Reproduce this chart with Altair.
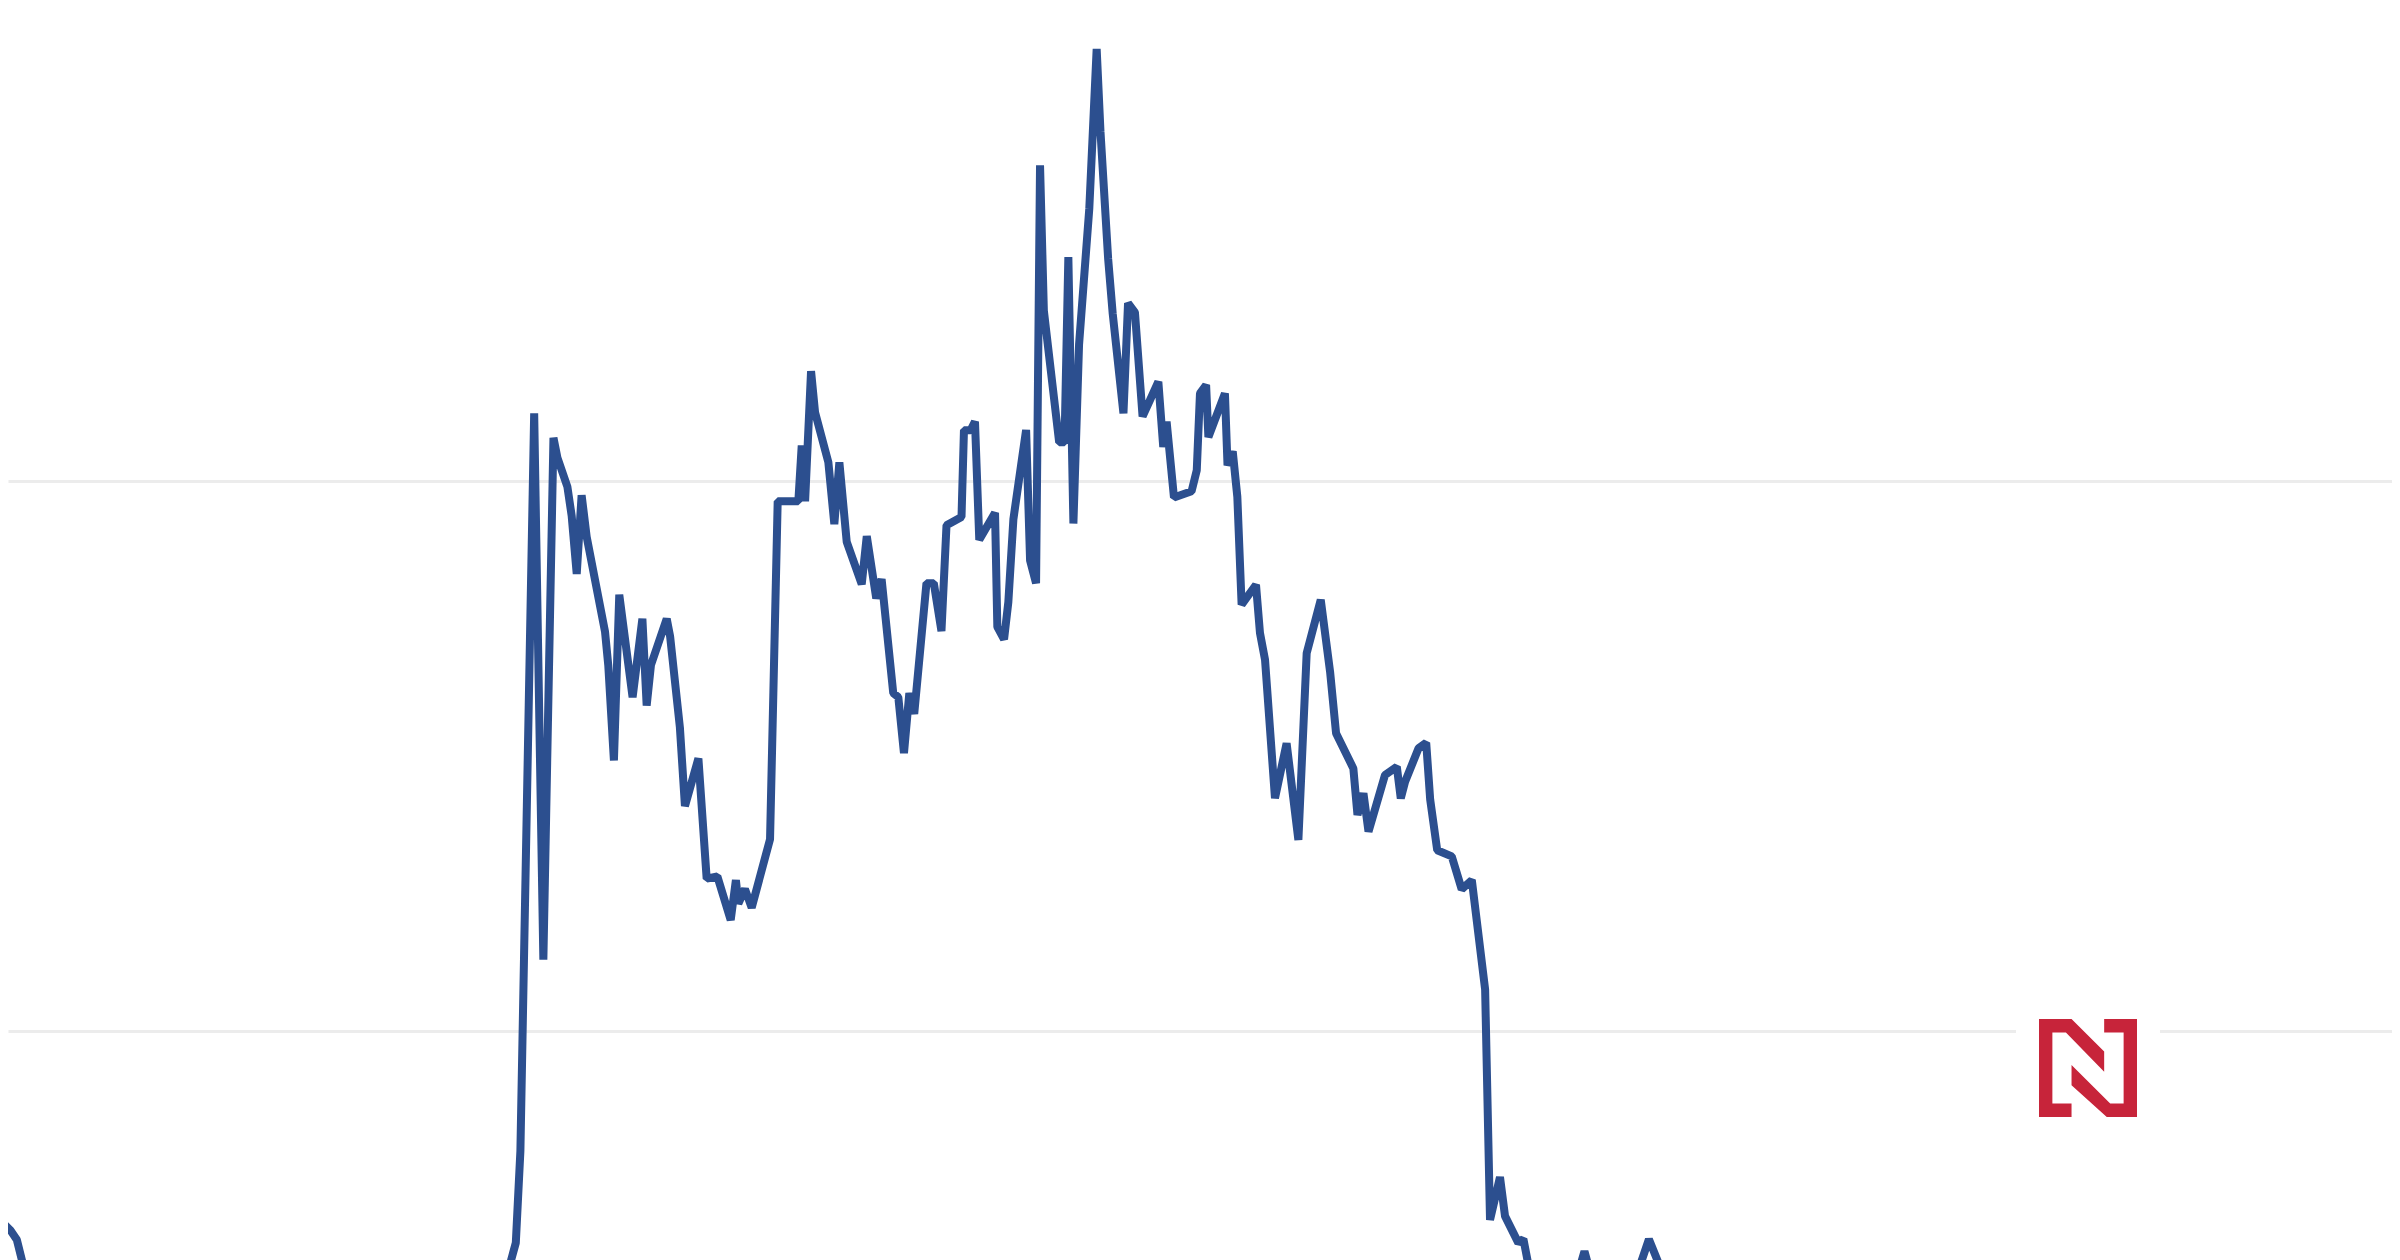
import altair as alt
import pandas as pd

# time index (days) and series values
day = [0, 7, 11, 15, 20, 330, 334, 337, 340, 349, 355, 361.6, 364.2, 370.7, 373.5, 376.8, 380, 383.3,
       395.3, 397.4, 401.1, 404.6, 413.3, 419.7, 422.5, 425.3, 435.6, 437.8, 444.2, 447.5, 456.3, 461.7,
       468.7, 477.4, 480.8, 482.4, 486.7, 491.1, 503.1, 508.1, 521.6, 523.8, 526, 529.9, 532.5, 541.2,
       545.1, 548.4, 553.2, 563, 566.3, 572.5, 576, 583.6, 586.9, 590.6, 594.1, 597.3, 605.3, 610.1,
       615.1, 618.4, 628.2, 629.8, 634.2, 637, 639.8, 650.1, 651.6, 656, 658.8, 662.1, 670.4, 673,
       676.9, 679.5, 682, 692, 695.5, 698, 701.3, 705, 711.7, 716.5, 719, 724, 727, 734, 737, 741.5,
       746.5, 756.8, 760, 762.2, 767, 778.5, 781.9, 784, 788, 789.5, 800.3, 802, 805.4, 808.4, 811.2,
       820.6, 823.2, 826.5, 833, 840.6, 848.3, 853.7, 862.9, 869, 872.9, 884.2, 886.9, 890.8, 894.1,
       904.9, 912.6, 915.2, 918, 926.8, 931.8, 934.4, 939, 948.5, 955, 961.6, 970.3, 973.5, 980, 983.3,
       992, 995.3, 998.5, 1003, 1027, 1035.2, 1043, 1065, 1077.3, 1092]
value = [65.65, 63.70, 62.03, 57.58, 52, 52, 58.41, 61.47, 78.17, 212.32, 112.96, 207.87, 204.25, 198.96,
         193.68, 183.10, 197.43, 189.89, 172.58, 166.54, 149.20, 179.34, 160.67, 174.97, 159.16, 166.54,
         174.97, 171.80, 155.21, 140.90, 149.56, 127.71, 128.10, 120.17, 127.44, 123.18, 125.82, 122.43,
         134.86, 196.32, 196.32, 206.48, 196.32, 219.98, 212.52, 203.42, 192.17, 203.42, 188.94, 181.23,
         189.97, 178.65, 182.18, 161.45, 160.72, 150.54, 161.45, 157.66, 181.43, 181.43, 172.72, 191.98,
         193.48, 209.26, 209.26, 210.82, 189.33, 194.23, 173.50, 171.24, 178.01, 193.09, 209.29, 185.55,
         181.43, 257.41, 230.97, 207.04, 207.04, 240.71, 192.28, 224.85, 249.62, 278.56, 263.53, 240.43,
         230.41, 212.32, 232.36, 230.69, 211.77, 218.06, 206.20, 210.79, 197.02, 198.13, 201.97, 215.94,
         217.47, 208.01, 215.94, 202.86, 205.37, 197.15, 177.53, 181.15, 172.38, 167.51, 142.33, 152.32,
         134.75, 168.68, 178.40, 165.34, 154.15, 147.75, 139.29, 143.21, 136.26, 146.56, 148.06, 142.30,
         145.33, 151.40, 152.43, 142.10, 132.86, 131.75, 125.77, 127.44, 107.54, 65.65, 73.44, 66.34,
         61.47, 62.17, 57.58, 52, 52, 59.94, 52, 52, 62.14, 52]
grid_values = [100, 200]

df = pd.DataFrame({"day": day, "value": value})

W, H = 2384, 1252
x_scale = alt.Scale(domain=[5.227, 1562.8], nice=False, zero=False)
y_scale = alt.Scale(domain=[58.36, 286.02], nice=False, zero=False)

line = alt.Chart(df).mark_line(
    color="#2c4f8f", strokeWidth=8, strokeJoin="bevel", strokeCap="butt", clip=True
).encode(
    x=alt.X("day:Q", scale=x_scale, axis=None),
    y=alt.Y("value:Q", scale=y_scale,
            axis=alt.Axis(values=grid_values, grid=True, labels=False, ticks=False,
                          domain=False, title=None, gridColor="#ececec", gridWidth=3)),
)

# white box behind the logo (interrupts the gridline)
logo_bg = alt.Chart(df.head(1)).mark_rect(color="white").encode(
    x=alt.value(2008), x2=alt.value(2152), y=alt.value(1000), y2=alt.value(1130)
)

logo_path = ("M-1,-1 L-0.336,-1 L0.330,-0.336 L0.330,0.075 L-0.451,-0.727 L-0.727,-0.727 "
             "L-0.727,0.727 L-0.336,0.727 L-0.336,1 L-1,1 Z "
             "M0.330,-1 L1,-1 L1,1 L0.383,1 L-0.336,0.350 L-0.336,-0.061 L0.453,0.727 "
             "L0.727,0.727 L0.727,-0.727 L0.330,-0.727 Z")
logo = alt.Chart(df.head(1)).mark_point(
    shape=logo_path, filled=True, color="#c7243a", opacity=1, size=98 * 98, strokeWidth=0
).encode(x=alt.value(2080), y=alt.value(1060))

chart = alt.layer(line, logo_bg, logo).properties(
    width=W, height=H, autosize=alt.AutoSizeParams(type="none"), padding=0
).configure_view(stroke=None)

chart.save("out.html", embed_options={"renderer": "svg", "actions": False})
